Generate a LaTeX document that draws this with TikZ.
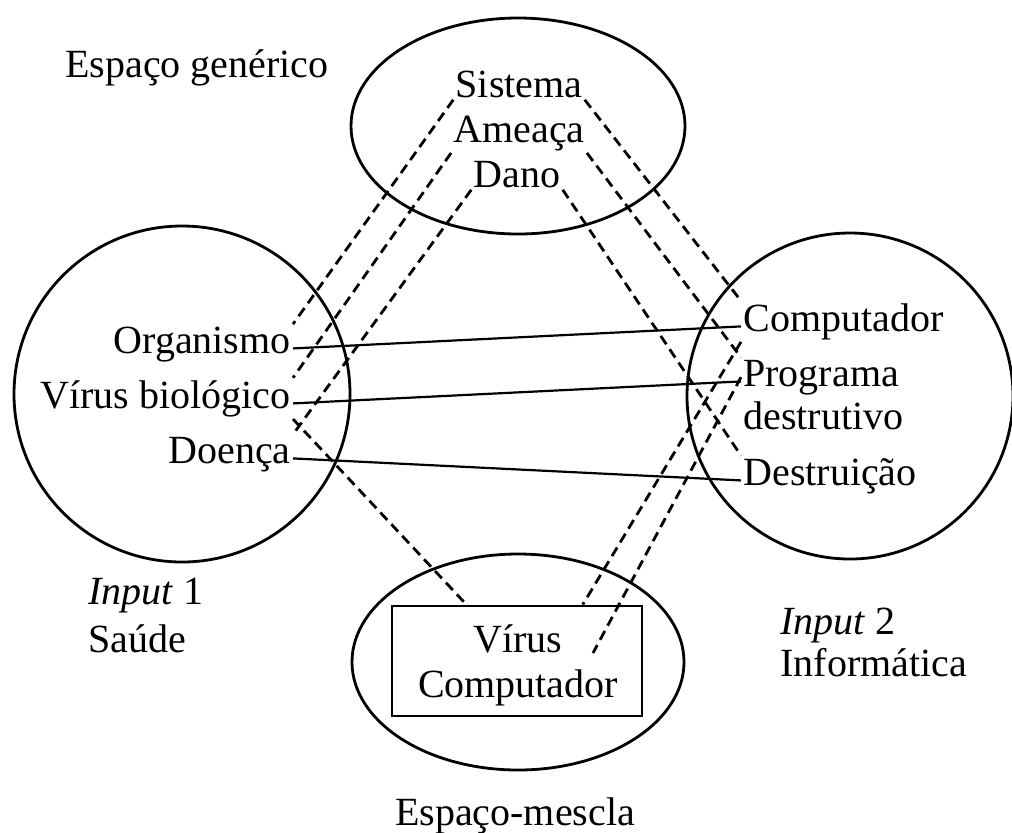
\documentclass[tikz,border=0pt]{standalone}
\usepackage{fontspec}
\setmainfont{Liberation Serif}
\usetikzlibrary{shapes.geometric,calc}
\begin{document}
\begin{tikzpicture}[x=0.5pt,y=-0.5pt,
  lbl/.style={inner sep=1pt,font=\fontsize{20}{24}\selectfont},
  space/.style={draw,line width=1.4pt,inner sep=0pt},
  link/.style={line width=1.1pt},
  dlink/.style={line width=1.4pt,dash pattern=on 5pt off 3pt}]
\useasboundingbox (0,0) rectangle (1012,832);
% spaces
\node[space,ellipse,minimum width=167pt,minimum height=108pt] (gen) at (518,126) {};
\node[space,circle,minimum size=168pt] (in1) at (182,394) {};
\node[space,circle,minimum size=163pt] (in2) at (850,396) {};
\node[space,ellipse,minimum width=166pt,minimum height=108pt] (blend) at (518,662) {};
\node[draw,line width=1.4pt,minimum width=125pt,minimum height=55pt] (box) at (517,661) {};
% texts
\node[lbl,anchor=base west] (tgen) at (63,77) {Espaço genérico};
\node[lbl,anchor=base] (sis) at (519,97) {Sistema};
\node[lbl,anchor=base] (ame) at (519,142) {Ameaça};
\node[lbl,anchor=base] (dano) at (517,187) {Dano};
\node[lbl,anchor=base east] (org) at (293,353) {Organismo};
\node[lbl,anchor=base east] (vb) at (293,408) {Vírus biológico};
\node[lbl,anchor=base east] (doe) at (293,463) {Doença};
\node[lbl,anchor=base west] (comp) at (741,331) {Computador};
\node[lbl,anchor=base west] (prog) at (741,386) {Programa};
\node[lbl,anchor=base west] (dest) at (741,429) {destrutivo};
\node[lbl,anchor=base west] (destr) at (741,485) {Destruição};
\node[lbl,anchor=base west] (i1) at (86,604) {\textit{Input} 1};
\node[lbl,anchor=base west] (s1) at (86,652) {Saúde};
\node[lbl,anchor=base west] (i2) at (778,634) {\textit{Input} 2};
\node[lbl,anchor=base west] (s2) at (778,676) {Informática};
\node[lbl,anchor=base] (bv) at (518,652) {Vírus};
\node[lbl,anchor=base] (bc) at (518,697) {Computador};
\node[lbl,anchor=base] (tbl) at (515,825) {Espaço-mescla};
% points on the box
\coordinate (bxl) at ($(box.north west)!0.3!(box.north east)$);
\coordinate (bxr) at ($(box.north west)!0.76!(box.north east)$);
\coordinate (free) at (593,653);
% solid cross-space mappings
\draw[link] (org.mid east) -- (comp.mid west);
\draw[link] (vb.mid east) -- (prog.mid west);
\draw[link] (doe.mid east) -- (destr.mid west);
% generic space projections
\draw[dlink] (sis.south west) -- (org.north east);
\draw[dlink] (ame.south west) -- (vb.north east);
\draw[dlink] (dano.south west) -- (doe.north east);
\draw[dlink] (sis.south east) -- (comp.north west);
\draw[dlink] (ame.south east) -- (prog.north west);
\draw[dlink] (dano.south east) -- (destr.north west);
% projections to blend
\draw[dlink] (vb.south east) -- (bxl);
\draw[dlink] (comp.south west) -- (bxr);
\draw[dlink] (prog.west) -- (free);
\end{tikzpicture}
\end{document}
